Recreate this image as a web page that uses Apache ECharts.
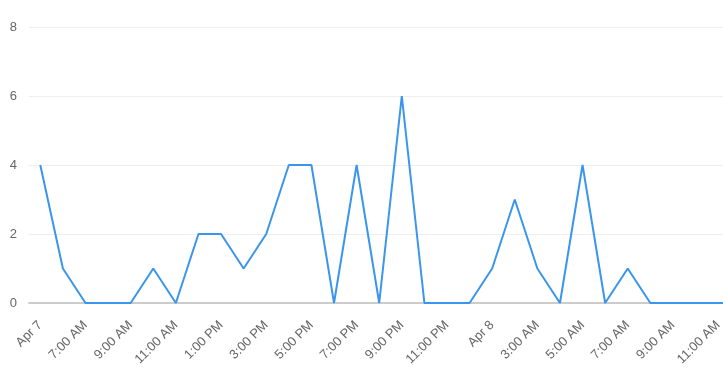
<!DOCTYPE html>
<html>
<head>
<meta charset="utf-8">
<script src="https://cdn.jsdelivr.net/npm/echarts@6/dist/echarts.min.js"></script>
<style>
html,body{margin:0;padding:0;overflow:hidden;background:#fff;}
#wrap{width:723px;height:375px;overflow:hidden;position:relative;}
#chart{width:752px;height:375px;position:absolute;left:0;top:0;}
</style>
</head>
<body>
<div id="wrap"><div id="chart"></div></div>
<script>
const categories = ["Apr 7","6:00 AM","7:00 AM","8:00 AM","9:00 AM","10:00 AM","11:00 AM","12:00 PM","1:00 PM","2:00 PM","3:00 PM","4:00 PM","5:00 PM","6:00 PM","7:00 PM","8:00 PM","9:00 PM","10:00 PM","11:00 PM","12:00 AM","Apr 8","2:00 AM","3:00 AM","4:00 AM","5:00 AM","6:00 AM","7:00 AM","8:00 AM","9:00 AM","10:00 AM","11:00 AM","12:00 PM"];
const values = [4,1,0,0,0,1,0,2,2,1,2,4,4,0,4,0,6,0,0,0,1,3,1,0,4,0,1,0,0,0,0,0];
const yTicks = {min:0, max:8, interval:2};

const chart = echarts.init(document.getElementById('chart'));
chart.setOption({
  animation:false,
  grid:{left:29, right:0, top:27, bottom:72, containLabel:false},
  xAxis:{
    type:'category',
    data:categories,
    boundaryGap:true,
    axisLine:{lineStyle:{color:'#ccc', width:2}},
    axisTick:{interval:1, alignWithLabel:true, length:5, lineStyle:{color:'#ccc'}},
    axisLabel:{interval:1, rotate:45, color:'#666', fontSize:13, fontFamily:'Liberation Sans, Arial, sans-serif', margin:20},
    splitLine:{show:false}
  },
  yAxis:{
    type:'value',
    min:yTicks.min, max:yTicks.max, interval:yTicks.interval,
    axisLine:{show:false},
    axisTick:{show:false},
    axisLabel:{color:'#666', fontSize:13, fontFamily:'Liberation Sans, Arial, sans-serif', margin:12},
    splitLine:{lineStyle:{color:'#eee'}}
  },
  series:[{
    type:'line',
    data:values,
    showSymbol:false,
    symbol:'none',
    lineStyle:{color:'#3a96ec', width:2},
    itemStyle:{color:'#3a96ec'}
  }]
});
</script>
</body>
</html>
